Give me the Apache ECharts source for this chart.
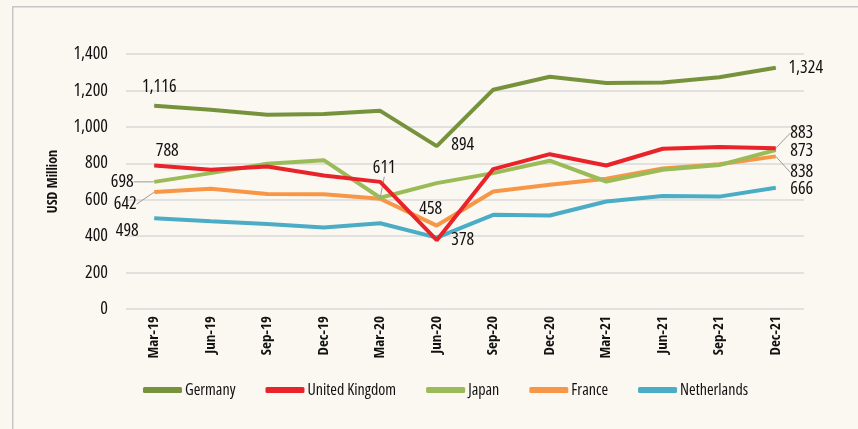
<!DOCTYPE html>
<html><head><meta charset="utf-8">
<script src="https://cdn.jsdelivr.net/npm/echarts@6/dist/echarts.min.js"></script>
<style>html,body{margin:0;padding:0;background:#faf7f0}#c{width:858px;height:429px}</style>
</head><body><div id="c"></div>
<script>
const categories = ['Mar-19','Jun-19','Sep-19','Dec-19','Mar-20','Jun-20','Sep-20','Dec-20','Mar-21','Jun-21','Sep-21','Dec-21'];
const germany     = [1116,1094,1066,1070,1088,894,1204,1275,1241,1244,1272,1324];
const uk          = [788,764,782,733,698,378,768,850,788,880,890,883];
const japan       = [698,746,797,817,611,691,746,814,700,764,790,873];
const france      = [642,660,632,630,605,458,645,682,715,771,795,838];
const netherlands = [498,482,467,447,471,392,517,513,590,621,617,666];
const seriesNames = ['Germany','United Kingdom','Japan','France','Netherlands'];
const yTicks = [0,200,400,600,800,1000,1200,1400];

const FONT = "'Open Sans'";
const FONT_B = "'Open Sans Condensed'";
const COND = 'condensed';
const colors = ['#76923c','#e8242a','#9bbb59','#f79646','#4bacc6'];
// label offsets (style): seriesIndex -> {dataIndex: [dx,dy]}
const labelOffsets = [
  {0:[5,-19], 5:[26,-1], 11:[30,0]},
  {0:[13,-15], 5:[26,0], 11:[26,-15]},
  {0:[-32,0], 4:[4,-30], 11:[26,1]},
  {0:[-29,12], 5:[-6,-17], 11:[26,16]},
  {0:[-27,13], 11:[26,1]}
];
const guided = {'2-0':1, '2-4':1, '3-0':1, '1-11':1, '3-11':1};
const fmt = v => v.toLocaleString('en-US');
const allData = [germany, uk, japan, france, netherlands];

const series = allData.map((vals, s) => ({
  name: seriesNames[s],
  type: 'line',
  symbol: 'circle',
  symbolSize: 1,
  showSymbol: true,
  lineStyle: {width: 4, color: colors[s]},
  itemStyle: {color: colors[s]},
  emphasis: {disabled: true},
  z: 10 - s,
  labelLayout: p => {
    const off = labelOffsets[p.seriesIndex][p.dataIndex];
    return off ? {dx: off[0], dy: off[1]} : {};
  },
  data: vals.map((v, i) => {
    const off = labelOffsets[s][i];
    return off ? {value: v,
      label: {show: true, position: 'inside', formatter: fmt(v), color: '#111', fontFamily: FONT, fontWeight: COND, fontSize: 18},
      labelLine: {show: !!guided[s + '-' + i], length2: 0, lineStyle: {color: '#9a9a9a', width: 1}}
    } : {value: v, label: {show: false}};
  })
}));

const chart = echarts.init(document.getElementById('c'), null, {renderer: 'canvas'});
chart.setOption({
  backgroundColor: '#faf7f0',
  animation: false,
  color: colors,
  graphic: [{type: 'rect', left: 12, top: 6, shape: {width: 860, height: 440},
    style: {fill: '#fbf8f1', stroke: '#c6c6c6', lineWidth: 1.5}, z: -10}],
  grid: {left: 126, right: 54, top: 54, bottom: 120},
  legend: {
    data: seriesNames, left: 138, top: 377, icon: 'roundRect', itemWidth: 39, itemHeight: 6, itemGap: 30,
    textStyle: {fontFamily: FONT, fontWeight: COND, fontSize: 16, color: '#111', padding: [0, 0, 0, -2]}
  },
  xAxis: {
    type: 'category', data: categories, boundaryGap: true,
    axisLine: {show: false}, axisTick: {show: false},
    axisLabel: {rotate: 90, margin: 7, fontFamily: FONT_B, fontWeight: 'bold', fontSize: 15, color: '#111'}
  },
  yAxis: {
    type: 'value', min: yTicks[0], max: yTicks[yTicks.length-1], interval: 200,
    name: 'USD Million', nameLocation: 'middle', nameRotate: 90, nameGap: 66,
    nameTextStyle: {fontFamily: FONT_B, fontWeight: 'bold', fontSize: 14, color: '#111'},
    axisLine: {show: false}, axisTick: {show: false},
    axisLabel: {margin: 18, fontFamily: FONT, fontWeight: COND, fontSize: 18, color: '#111', formatter: v => fmt(v)},
    splitLine: {lineStyle: {color: '#dadada', width: 1.5}}
  },
  series: series
});
</script></body></html>
